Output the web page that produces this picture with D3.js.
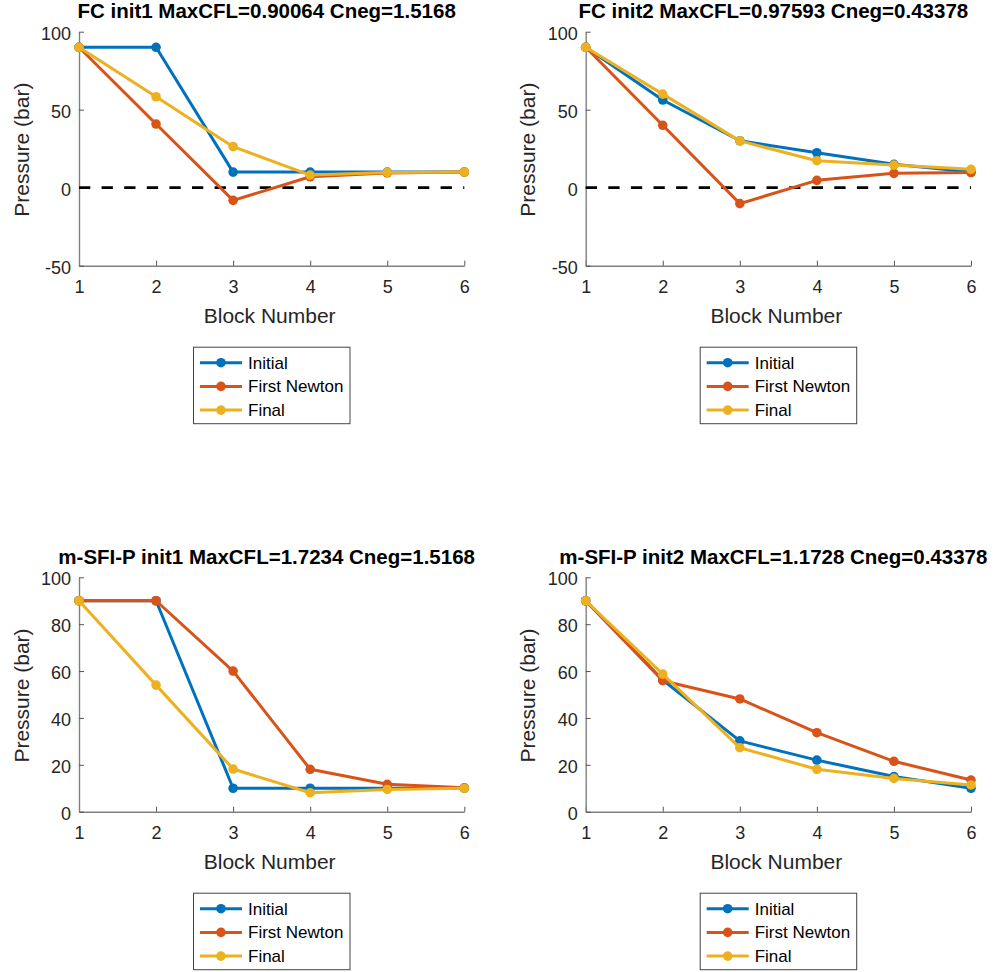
<!DOCTYPE html>
<html>
<head>
<meta charset="utf-8">
<script src="https://cdn.jsdelivr.net/npm/d3@7"></script>
<style>
  html, body { margin: 0; padding: 0; background: #fff; }
  svg { display: block; font-family: "Liberation Sans", Arial, Helvetica, sans-serif; }
</style>
</head>
<body>
<svg id="chart" width="1000" height="972"></svg>
<script>
// Block numbers along the x axis
const blocks = [1, 2, 3, 4, 5, 6];

// Series names and MATLAB default line colours
const seriesNames = ["Initial", "First Newton", "Final"];
const seriesColors = ["#0072BD", "#D95319", "#EDB120"];

// Panel titles
const titles = [
  "FC init1 MaxCFL=0.90064 Cneg=1.5168",
  "FC init2 MaxCFL=0.97593 Cneg=0.43378",
  "m-SFI-P init1 MaxCFL=1.7234 Cneg=1.5168",
  "m-SFI-P init2 MaxCFL=1.1728 Cneg=0.43378"
];

// Pressure (bar) per block
const fcInit1Initial     = [90, 90, 10, 10, 10, 10];
const fcInit1Newton      = [90, 40.8, -8.1, 7, 9.5, 10];
const fcInit1Final       = [90, 58.3, 26.3, 8.1, 9.8, 10];

const fcInit2Initial     = [90, 56.2, 30.1, 22.4, 15, 10];
const fcInit2Newton      = [90, 40, -10.2, 4.7, 9.2, 9.7];
const fcInit2Final       = [90, 60, 30, 17.3, 14.5, 11.8];

const sfiInit1Initial    = [90, 90, 10, 10, 10, 10];
const sfiInit1Newton     = [90, 90, 60, 18.1, 11.7, 10.2];
const sfiInit1Final      = [90, 54, 18.2, 8.1, 9.5, 10];

const sfiInit2Initial    = [90, 56.2, 30.2, 22, 15, 10];
const sfiInit2Newton     = [90, 55.9, 48.1, 33.7, 21.5, 13.5];
const sfiInit2Final      = [90, 58.7, 27.3, 18.1, 14.2, 11.4];

// Y tick values
const yTicksTop = [-50, 0, 50, 100];
const yTicksBottom = [0, 20, 40, 60, 80, 100];

const panels = [
  { title: titles[0], series: [fcInit1Initial, fcInit1Newton, fcInit1Final],
    yDomain: [-50, 100], yTicks: yTicksTop, zeroLine: true,
    left: 79, right: 464.3, top: 31.7, bottom: 265.7 },
  { title: titles[1], series: [fcInit2Initial, fcInit2Newton, fcInit2Final],
    yDomain: [-50, 100], yTicks: yTicksTop, zeroLine: true,
    left: 585.7, right: 971, top: 31.7, bottom: 265.7 },
  { title: titles[2], series: [sfiInit1Initial, sfiInit1Newton, sfiInit1Final],
    yDomain: [0, 100], yTicks: yTicksBottom, zeroLine: false,
    left: 79, right: 464.3, top: 577.3, bottom: 811.7 },
  { title: titles[3], series: [sfiInit2Initial, sfiInit2Newton, sfiInit2Final],
    yDomain: [0, 100], yTicks: yTicksBottom, zeroLine: false,
    left: 585.7, right: 971, top: 577.3, bottom: 811.7 }
];

const svg = d3.select("#chart");
const textColor = "#262626";
const axisColor = "#808080";
const plainNumber = d => String(d);   // hyphen-minus for negative ticks

panels.forEach(p => {
  const x = d3.scaleLinear().domain([1, 6]).range([p.left, p.right]);
  const y = d3.scaleLinear().domain(p.yDomain).range([p.bottom, p.top]);
  const g = svg.append("g");

  // Axes (ticks point inward, no box)
  const xAxis = d3.axisBottom(x).tickValues(blocks).tickFormat(plainNumber)
    .tickSizeInner(-5).tickSizeOuter(0).tickPadding(15);
  const yAxis = d3.axisLeft(y).tickValues(p.yTicks).tickFormat(plainNumber)
    .tickSizeInner(-5).tickSizeOuter(0).tickPadding(8);

  const gx = g.append("g").attr("transform", `translate(0,${p.bottom})`).call(xAxis);
  const gy = g.append("g").attr("transform", `translate(${p.left},0)`).call(yAxis);
  [gx, gy].forEach(a => {
    a.attr("font-family", null).attr("font-size", null);
    a.select(".domain").attr("stroke", axisColor).attr("stroke-width", 1.4);
    a.selectAll(".tick line").attr("stroke", "#555").attr("stroke-width", 1);
    a.selectAll(".tick text").attr("fill", textColor).style("font-size", "18px");
  });
  gy.selectAll(".tick text").attr("dy", "0.42em");

  // Zero reference line
  if (p.zeroLine) {
    g.append("line")
      .attr("x1", x(1)).attr("x2", x(6))
      .attr("y1", y(0)).attr("y2", y(0))
      .attr("stroke", "#000").attr("stroke-width", 2.7)
      .attr("stroke-dasharray", "11.3,11.3");
  }

  // Series lines with dot markers
  const line = d3.line().x((d, i) => x(blocks[i])).y(d => y(d));
  p.series.forEach((vals, si) => {
    g.append("path").datum(vals)
      .attr("d", line).attr("fill", "none")
      .attr("stroke", seriesColors[si]).attr("stroke-width", 3)
      .attr("stroke-linejoin", "round");
    g.selectAll(null).data(vals).enter().append("circle")
      .attr("cx", (d, i) => x(blocks[i])).attr("cy", d => y(d))
      .attr("r", 4.8).attr("fill", seriesColors[si]);
  });

  const cx = (p.left + p.right) / 2;

  // Title
  g.append("text").attr("x", cx - 5).attr("y", p.top - 13.5)
    .attr("text-anchor", "middle").attr("font-weight", "bold")
    .style("font-size", "20.5px").attr("fill", "#000").text(p.title);

  // Axis labels
  g.append("text").attr("x", cx - 2).attr("y", p.bottom + 57.3)
    .attr("text-anchor", "middle").style("font-size", "21px")
    .attr("fill", textColor).text("Block Number");
  g.append("text")
    .attr("transform", `translate(${p.left - 50.5},${(p.top + p.bottom) / 2 + 1}) rotate(-90)`)
    .attr("text-anchor", "middle").style("font-size", "21px")
    .attr("fill", textColor).text("Pressure (bar)");

  // Legend
  const lx = p.left + 114.5, ly = p.bottom + 81.5;
  const lg = g.append("g").attr("transform", `translate(${lx},${ly})`);
  lg.append("rect").attr("x", 0).attr("y", 0).attr("width", 156.5).attr("height", 76.5)
    .attr("fill", "#fff").attr("stroke", "#444").attr("stroke-width", 1);
  seriesNames.forEach((name, i) => {
    const ry = 15.5 + i * 23.7;
    lg.append("line").attr("x1", 6.5).attr("x2", 48.5).attr("y1", ry).attr("y2", ry)
      .attr("stroke", seriesColors[i]).attr("stroke-width", 3);
    lg.append("circle").attr("cx", 27.5).attr("cy", ry).attr("r", 4.8)
      .attr("fill", seriesColors[i]);
    lg.append("text").attr("x", 54.5).attr("y", ry + 6)
      .style("font-size", "17px").attr("fill", "#000").text(name);
  });
});
</script>
</body>
</html>
